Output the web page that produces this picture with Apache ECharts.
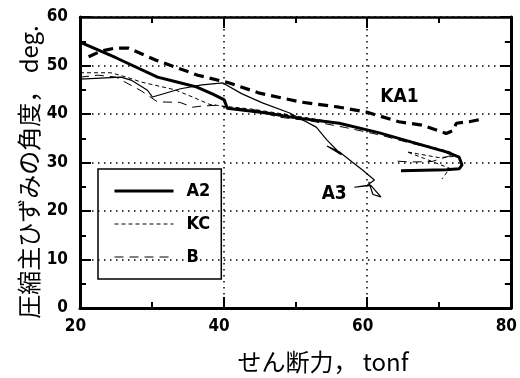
<!DOCTYPE html>
<html>
<head>
<meta charset="utf-8">
<script src="https://cdn.jsdelivr.net/npm/echarts@6/dist/echarts.min.js"></script>
<style>html,body{margin:0;padding:0;background:#fff;}#c{width:520px;height:378px;}</style>
</head>
<body>
<div id="c"></div>
<script>
// ---- data (x: せん断力 tonf, y: 角度 deg.) ----
var xTicks = [20, 40, 60, 80];
var yTicks = [0, 10, 20, 30, 40, 50, 60];
var A2 = [[20,54.8],[25,51.6],[30.8,47.6],[33.5,46.6],[36.2,45.6],[38.5,44.1],[40.1,42.9],[40.5,41.2],[46,40.2],[50.1,39.2],[56.1,38.1],[61.7,36.1],[66.2,34.2],[71,32.2],[72.8,31.1],[73.2,29.5],[72.8,28.7],[71,28.5],[64.7,28.3]];
var KA1 = [[21.2,51.8],[23,53],[24.9,53.6],[26.7,53.6],[30.6,51.1],[33.6,49.5],[36.4,48],[40.8,46.4],[45,44.3],[50.6,42.5],[56.1,41.4],[59.9,40.4],[61.7,39.6],[64.4,38.4],[67.6,37.7],[71,36],[72,36.6],[72.4,38.1],[74.2,38.4],[75.8,38.9]];
var A3 = [[20,47.2],[25.7,47.6],[27.1,47],[29.4,44.9],[30.1,43.5],[30.3,43.8],[34,45.2],[37,46],[39.9,46.4],[42.5,44.2],[45.4,42.3],[49.2,40.2],[52.9,37.3],[54.4,34.6],[56.4,31.6],[54.4,33.4],[56.1,32.2],[57.9,30.1],[59.3,28.5],[61,26.4],[60,25.3],[58.2,24.9],[60.5,25.3],[61.9,22.9],[60.8,23.4],[60.2,26]];
var KC = [[20,48.5],[24.3,48.5],[26.5,47.6],[28.5,46.6],[33.2,45],[36,43.3],[38,42],[40,41.6],[44,41],[50,39.6],[55,38.4],[60,36.8],[64,35.2],[68,33.6],[71.5,32.2],[72.5,31.3],[70,31],[67,31.8],[65.5,32.2],[68,30.8],[71.5,28.8],[70.4,26.6]];
var B = [[20,47.6],[22.5,48],[25,47.6],[28.5,44.8],[30.8,42.5],[33.9,42.4],[35.7,41.4],[36.7,41.6],[39,41.8],[41,41.3],[44.6,40.8],[47.4,39.4],[52,38.6],[57,37.2],[62,35.6],[66,34],[70,32.6],[72,31.6],[69,30.2],[66,30.1],[64,30.3]];
var labelKA1 = [64.5, 43.5];
var labelA3 = [55.4, 23.4];

var numFont = "'DejaVu Sans Condensed', sans-serif";
var cjkFont = "'Noto Sans CJK JP', sans-serif";

function axisCommon(pos, showLabel, min, max, interval, grid) {
  return {
    type: 'value', position: pos, min: min, max: max, interval: interval,
    axisLine: {show: true, onZero: false, lineStyle: {color: '#000', width: 3}},
    axisTick: {show: true, inside: true, length: 11, lineStyle: {color: '#000', width: 2}},
    minorTick: {show: true, splitNumber: 2, length: 6, lineStyle: {color: '#000', width: 2}},
    splitLine: {show: grid, lineStyle: {color: '#000', width: 1.5, type: [1.5, 4.5]}},
    minorSplitLine: {show: false},
    axisLabel: {show: showLabel, color: '#000', fontFamily: numFont, fontWeight: 'bold', fontSize: 17}
  };
}

var xBottom = axisCommon('bottom', true, xTicks[0], xTicks[xTicks.length-1], 20, true);
xBottom.axisLabel.margin = 10;
xBottom.axisLabel.padding = [0, 9, 0, 0];
var xTop = axisCommon('top', false, xTicks[0], xTicks[xTicks.length-1], 20, false);
xTop.axisLine.lineStyle.width = 2.5;
var yLeft = axisCommon('left', true, yTicks[0], yTicks[yTicks.length-1], 10, true);
yLeft.axisLabel.margin = 12;
var yRight = axisCommon('right', false, yTicks[0], yTicks[yTicks.length-1], 10, false);

var legendText = {color: '#000', fontFamily: numFont, fontWeight: 'bold', fontSize: 18, padding: [0, 0, 0, 8], lineHeight: 18};
var chart = echarts.init(document.getElementById('c'), null, {renderer: 'canvas'});
chart.setOption({
  animation: false,
  backgroundColor: '#fff',
  grid: {left: 80, right: 7, top: 17, bottom: 70, containLabel: false},
  xAxis: [xBottom, xTop],
  yAxis: [yLeft, yRight],
  legend: {
    data: [
      {name: 'A2', itemStyle: {opacity: 0}, lineStyle: {color: '#000', width: 3, type: 'solid'}},
      {name: 'KC', itemStyle: {opacity: 0}, lineStyle: {color: '#000', width: 1, type: [4, 3]}},
      {name: 'B', itemStyle: {opacity: 0}, lineStyle: {color: '#000', width: 1, type: [9, 6]}}
    ],
    orient: 'vertical', left: 98, top: 169,
    itemWidth: 59, itemHeight: 18, itemGap: 15,
    padding: [13, 11, 13, 15],
    borderColor: '#000', borderWidth: 1.5,
    textStyle: legendText
  },
  graphic: [
    {type: 'text', x: 323, y: 362, style: {text: 'せん断力， tonf', font: '24px ' + cjkFont, fill: '#000', align: 'center', verticalAlign: 'middle'}},
    {type: 'text', x: 29, y: 172, rotation: Math.PI / 2, style: {text: '圧縮主ひずみの角度， deg.', font: '24px ' + cjkFont, fill: '#000', align: 'center', verticalAlign: 'middle'}}
  ],
  series: [
    {name: 'A2', type: 'line', data: A2, symbol: 'none', lineStyle: {color: '#000', width: 3}, itemStyle: {color: '#000'}, z: 5},
    {name: 'KC', type: 'line', data: KC, symbol: 'none', lineStyle: {color: '#000', width: 1, type: [4, 3]}, itemStyle: {color: '#000'}, z: 4},
    {name: 'B', type: 'line', data: B, symbol: 'none', lineStyle: {color: '#000', width: 1, type: [9, 6]}, itemStyle: {color: '#000'}, z: 4},
    {name: 'KA1', type: 'line', data: KA1, symbol: 'none', lineStyle: {color: '#000', width: 3.2, type: [10, 6]}, z: 5,
      markPoint: {symbol: 'circle', symbolSize: 0, data: [{coord: labelKA1, value: 'KA1'}],
        label: {show: true, formatter: 'KA1', color: '#000', fontFamily: numFont, fontWeight: 'bold', fontSize: 19, position: 'inside'}}},
    {name: 'A3', type: 'line', data: A3, symbol: 'none', lineStyle: {color: '#000', width: 1.2}, z: 4,
      markPoint: {symbol: 'circle', symbolSize: 0, data: [{coord: labelA3, value: 'A3'}],
        label: {show: true, formatter: 'A3', color: '#000', fontFamily: numFont, fontWeight: 'bold', fontSize: 19, position: 'inside'}}}
  ]
});
</script>
</body>
</html>
